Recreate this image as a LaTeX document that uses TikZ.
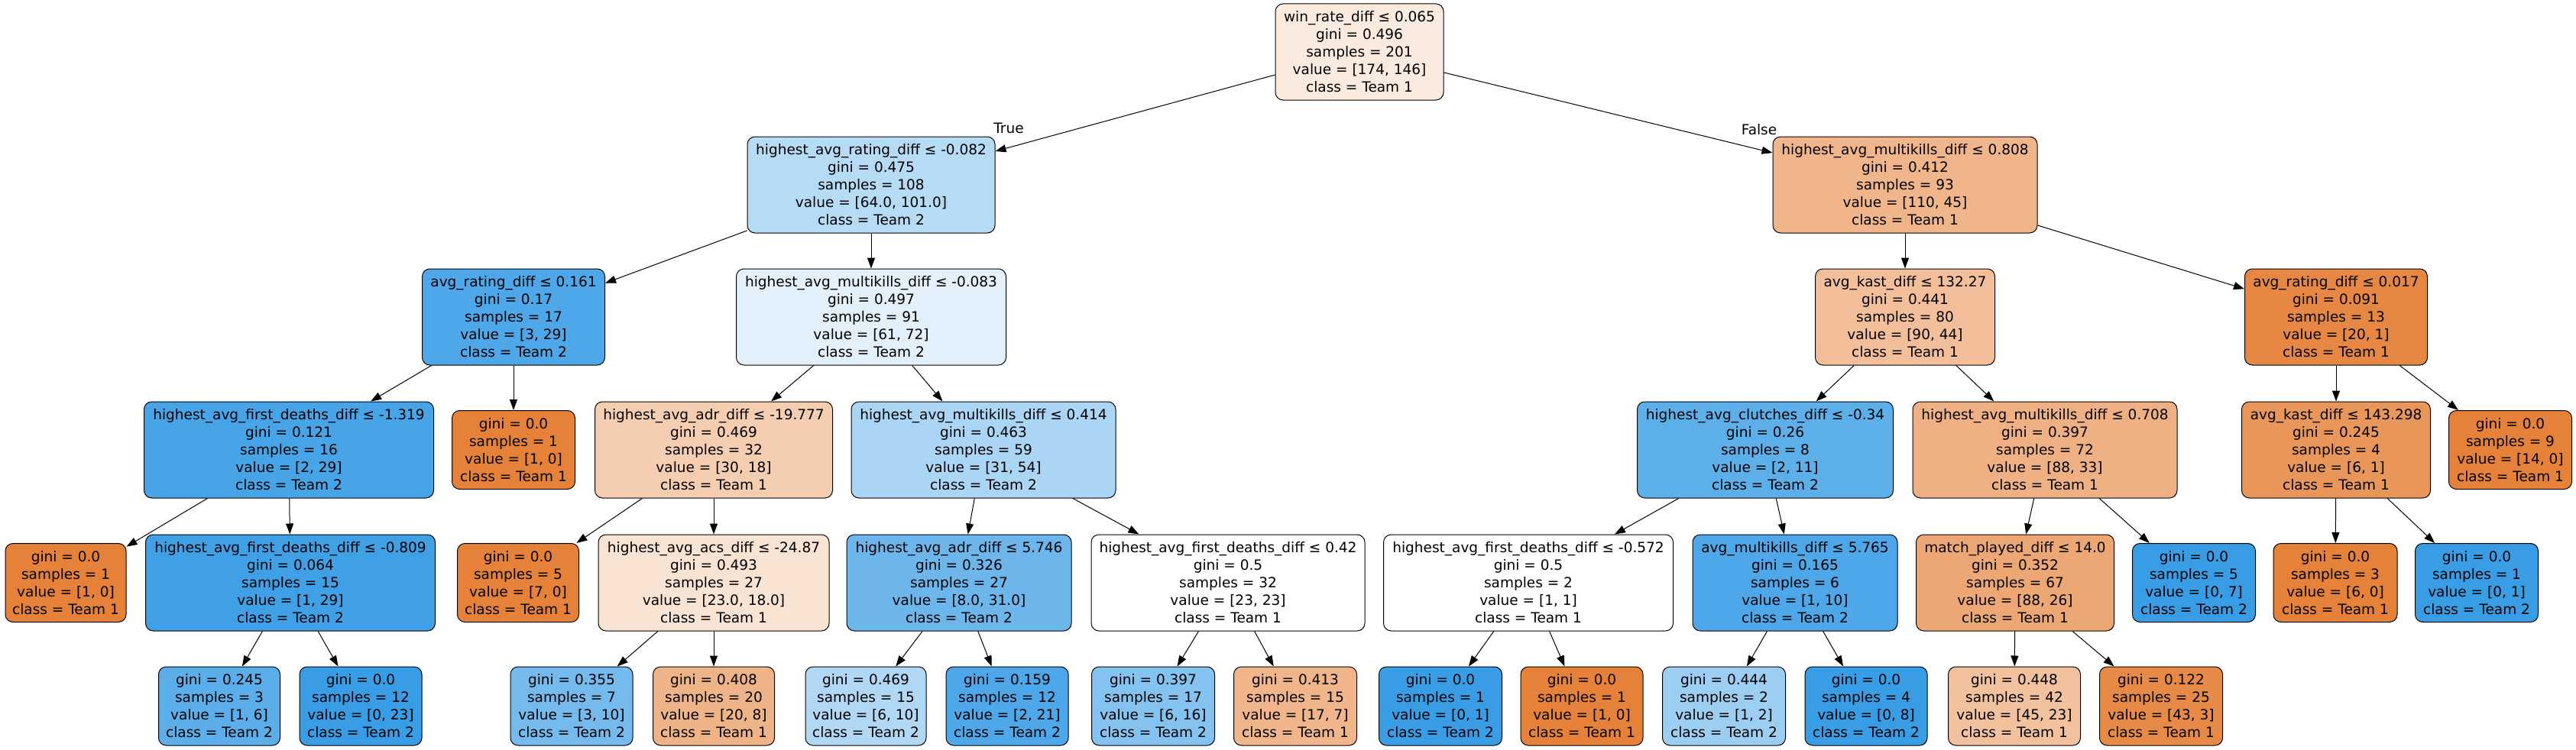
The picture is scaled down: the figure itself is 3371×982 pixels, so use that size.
\documentclass[tikz,border=0pt]{standalone}
\usepackage{fontspec}
\setmainfont{DejaVu Sans}
\usetikzlibrary{arrows.meta}
\definecolor{TA}{RGB}{229,129,57}
\definecolor{TB}{RGB}{57,157,229}
\begin{document}
\begin{tikzpicture}[x=1pt,y=-1pt,
  tn/.style={draw, rounded corners=10pt, line width=1pt, align=center, inner sep=0pt,
    minimum height=126pt, font=\fontsize{18.5}{23}\selectfont},
  lf/.style={tn, minimum height=103pt},
  arr/.style={-{Triangle[length=14pt,width=10pt]}, line width=1pt},
  elab/.style={font=\fontsize{18.5}{23}\selectfont, inner sep=0pt}]
\fill[white] (0,0) rectangle (3371,982);
\useasboundingbox (0,0) rectangle (3371,982);
% level 0
\node[tn, minimum width=220pt, fill=TA!16!white] (r) at (1779,68) {win\_rate\_diff ≤ 0.065\\gini = 0.496\\samples = 201\\value = [174, 146]\\class = Team 1};
% level 1
\node[tn, minimum width=324pt, fill=TB!37!white] (n1) at (1140,242) {highest\_avg\_rating\_diff ≤ -0.082\\gini = 0.475\\samples = 108\\value = [64.0, 101.0]\\class = Team 2};
\node[tn, minimum width=346pt, fill=TA!59!white] (n2) at (2493,242) {highest\_avg\_multikills\_diff ≤ 0.808\\gini = 0.412\\samples = 93\\value = [110, 45]\\class = Team 1};
% level 2
\node[tn, minimum width=239pt, fill=TB!90!white] (n3) at (672,415) {avg\_rating\_diff ≤ 0.161\\gini = 0.17\\samples = 17\\value = [3, 29]\\class = Team 2};
\node[tn, minimum width=353pt, fill=TB!15!white] (n4) at (1140,415) {highest\_avg\_multikills\_diff ≤ -0.083\\gini = 0.497\\samples = 91\\value = [61, 72]\\class = Team 2};
\node[tn, minimum width=235pt, fill=TA!51!white] (n5) at (2493,415) {avg\_kast\_diff ≤ 132.27\\gini = 0.441\\samples = 80\\value = [90, 44]\\class = Team 1};
\node[tn, minimum width=239pt, fill=TA!95!white] (n6) at (3057,415) {avg\_rating\_diff ≤ 0.017\\gini = 0.091\\samples = 13\\value = [20, 1]\\class = Team 1};
% level 3
\node[tn, minimum width=379pt, fill=TB!93!white] (n7) at (378,589) {highest\_avg\_first\_deaths\_diff ≤ -1.319\\gini = 0.121\\samples = 16\\value = [2, 29]\\class = Team 2};
\node[lf, minimum width=161pt, fill=TA] (n8) at (672,589) {gini = 0.0\\samples = 1\\value = [1, 0]\\class = Team 1};
\node[tn, minimum width=311pt, fill=TA!40!white] (n9) at (934,589) {highest\_avg\_adr\_diff ≤ -19.777\\gini = 0.469\\samples = 32\\value = [30, 18]\\class = Team 1};
\node[tn, minimum width=346pt, fill=TB!43!white] (n10) at (1287,589) {highest\_avg\_multikills\_diff ≤ 0.414\\gini = 0.463\\samples = 59\\value = [31, 54]\\class = Team 2};
\node[tn, minimum width=335pt, fill=TB!82!white] (n11) at (2310,589) {highest\_avg\_clutches\_diff ≤ -0.34\\gini = 0.26\\samples = 8\\value = [2, 11]\\class = Team 2};
\node[tn, minimum width=346pt, fill=TA!62!white] (n12) at (2676,589) {highest\_avg\_multikills\_diff ≤ 0.708\\gini = 0.397\\samples = 72\\value = [88, 33]\\class = Team 1};
\node[tn, minimum width=247pt, fill=TA!83!white] (n13) at (3057,589) {avg\_kast\_diff ≤ 143.298\\gini = 0.245\\samples = 4\\value = [6, 1]\\class = Team 1};
\node[lf, minimum width=161pt, fill=TA] (n14) at (3285,589) {gini = 0.0\\samples = 9\\value = [14, 0]\\class = Team 1};
% level 4
\node[lf, minimum width=158pt, fill=TA] (n15) at (86,763) {gini = 0.0\\samples = 1\\value = [1, 0]\\class = Team 1};
\node[tn, minimum width=379pt, fill=TB!97!white] (n16) at (380,763) {highest\_avg\_first\_deaths\_diff ≤ -0.809\\gini = 0.064\\samples = 15\\value = [1, 29]\\class = Team 2};
\node[lf, minimum width=159pt, fill=TA] (n17) at (678,763) {gini = 0.0\\samples = 5\\value = [7, 0]\\class = Team 1};
\node[tn, minimum width=302pt, fill=TA!22!white] (n18) at (934,763) {highest\_avg\_acs\_diff ≤ -24.87\\gini = 0.493\\samples = 27\\value = [23.0, 18.0]\\class = Team 1};
\node[tn, minimum width=294pt, fill=TB!74!white] (n19) at (1255,763) {highest\_avg\_adr\_diff ≤ 5.746\\gini = 0.326\\samples = 27\\value = [8.0, 31.0]\\class = Team 2};
\node[tn, minimum width=358pt, fill=white] (n20) at (1607,763) {highest\_avg\_first\_deaths\_diff ≤ 0.42\\gini = 0.5\\samples = 32\\value = [23, 23]\\class = Team 1};
\node[tn, minimum width=379pt, fill=white] (n21) at (2000,763) {highest\_avg\_first\_deaths\_diff ≤ -0.572\\gini = 0.5\\samples = 2\\value = [1, 1]\\class = Team 1};
\node[tn, minimum width=268pt, fill=TB!90!white] (n22) at (2349,763) {avg\_multikills\_diff ≤ 5.765\\gini = 0.165\\samples = 6\\value = [1, 10]\\class = Team 2};
\node[tn, minimum width=259pt, fill=TA!70!white] (n23) at (2637,763) {match\_played\_diff ≤ 14.0\\gini = 0.352\\samples = 67\\value = [88, 26]\\class = Team 1};
\node[lf, minimum width=161pt, fill=TB] (n24) at (2871,763) {gini = 0.0\\samples = 5\\value = [0, 7]\\class = Team 2};
\node[lf, minimum width=162pt, fill=TA] (n25) at (3056,763) {gini = 0.0\\samples = 3\\value = [6, 0]\\class = Team 1};
\node[lf, minimum width=161pt, fill=TB] (n26) at (3241,763) {gini = 0.0\\samples = 1\\value = [0, 1]\\class = Team 2};
% level 5
\node[lf, minimum width=159pt, fill=TB!83!white] (n27) at (287,924.5) {gini = 0.245\\samples = 3\\value = [1, 6]\\class = Team 2};
\node[lf, minimum width=160pt, fill=TB] (n28) at (472,924.5) {gini = 0.0\\samples = 12\\value = [0, 23]\\class = Team 2};
\node[lf, minimum width=160pt, fill=TB!70!white] (n29) at (748,924.5) {gini = 0.355\\samples = 7\\value = [3, 10]\\class = Team 2};
\node[lf, minimum width=159pt, fill=TA!60!white] (n30) at (934,924.5) {gini = 0.408\\samples = 20\\value = [20, 8]\\class = Team 1};
\node[lf, minimum width=158pt, fill=TB!40!white] (n31) at (1133,924.5) {gini = 0.469\\samples = 15\\value = [6, 10]\\class = Team 2};
\node[lf, minimum width=160pt, fill=TB!90!white] (n32) at (1318,924.5) {gini = 0.159\\samples = 12\\value = [2, 21]\\class = Team 2};
\node[lf, minimum width=161pt, fill=TB!62!white] (n33) at (1509,924.5) {gini = 0.397\\samples = 17\\value = [6, 16]\\class = Team 2};
\node[lf, minimum width=161pt, fill=TA!59!white] (n34) at (1695,924.5) {gini = 0.413\\samples = 15\\value = [17, 7]\\class = Team 1};
\node[lf, minimum width=161pt, fill=TB] (n35) at (1885,924.5) {gini = 0.0\\samples = 1\\value = [0, 1]\\class = Team 2};
\node[lf, minimum width=160pt, fill=TA] (n36) at (2070,924.5) {gini = 0.0\\samples = 1\\value = [1, 0]\\class = Team 1};
\node[lf, minimum width=161pt, fill=TB!50!white] (n37) at (2256,924.5) {gini = 0.444\\samples = 2\\value = [1, 2]\\class = Team 2};
\node[lf, minimum width=160pt, fill=TB] (n38) at (2442,924.5) {gini = 0.0\\samples = 4\\value = [0, 8]\\class = Team 2};
\node[lf, minimum width=173pt, fill=TA!49!white] (n39) at (2636,924.5) {gini = 0.448\\samples = 42\\value = [45, 23]\\class = Team 1};
\node[lf, minimum width=161pt, fill=TA!93!white] (n40) at (2828,924.5) {gini = 0.122\\samples = 25\\value = [43, 3]\\class = Team 1};
% edges
\draw[arr] (r) -- (n1);
\draw[arr] (r) -- (n2);
\node[elab] (tl) at (1320,168) {True};
\node[elab] (fl) at (2302,170) {False};
\foreach \p/\c in {n1/n3,n1/n4,n2/n5,n2/n6,n3/n7,n3/n8,n4/n9,n4/n10,n5/n11,n5/n12,n6/n13,n6/n14,
  n7/n15,n7/n16,n9/n17,n9/n18,n10/n19,n10/n20,n11/n21,n11/n22,n12/n23,n12/n24,n13/n25,n13/n26,
  n16/n27,n16/n28,n18/n29,n18/n30,n19/n31,n19/n32,n20/n33,n20/n34,n21/n35,n21/n36,n22/n37,n22/n38,
  n23/n39,n23/n40}
  \draw[arr] (\p) -- (\c);
\end{tikzpicture}
\end{document}
